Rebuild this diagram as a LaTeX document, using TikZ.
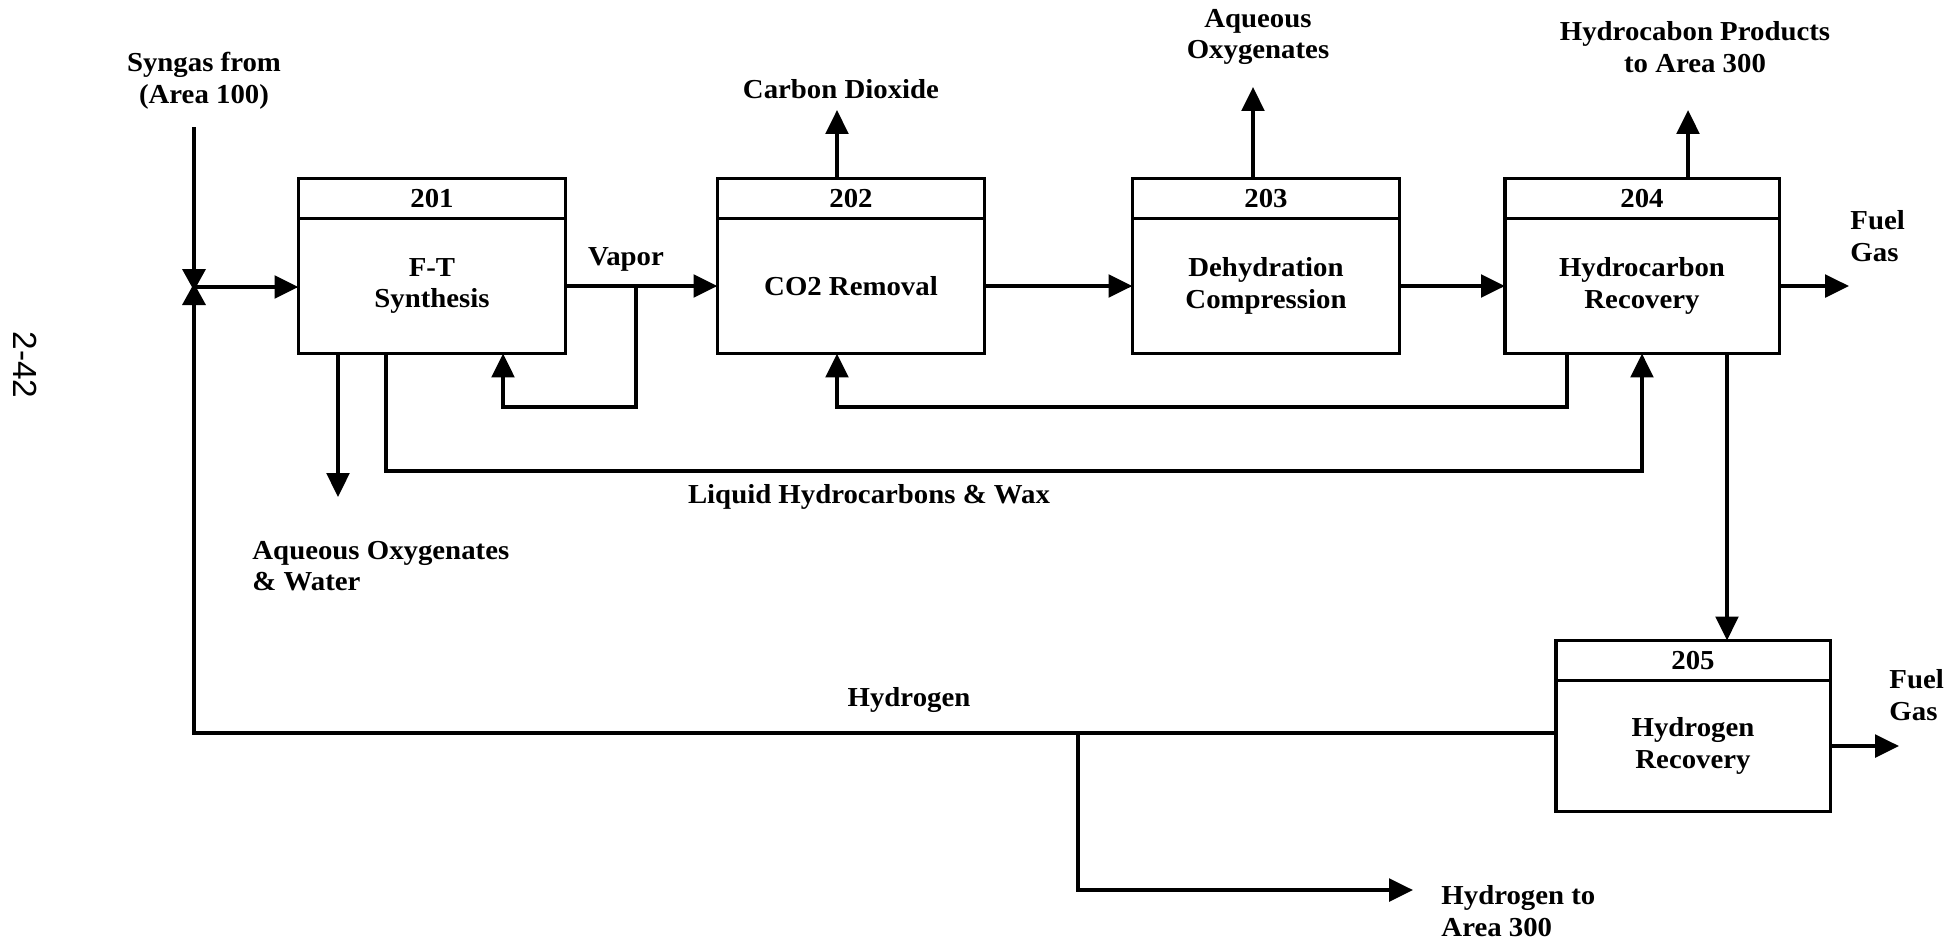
\documentclass[tikz,border=0pt]{standalone}
\usepackage{fontspec}
\setmainfont{Liberation Serif}[FakeStretch=1.05]
\setsansfont{Liberation Sans}
\usetikzlibrary{arrows.meta,positioning}

\newcommand{\flowfont}{\fontsize{7.8pt}{9pt}\selectfont}

\tikzset{
  unit/.style={draw, line width=0.9pt, minimum width=2.67cm, minimum height=1.35cm,
    outer sep=0pt, align=center, font=\bfseries\flowfont},
  tag/.style={draw, line width=0.9pt, minimum width=2.67cm, minimum height=0.40cm,
    outer sep=0pt, inner sep=0pt, font=\bfseries\flowfont},
  lbl/.style={align=center, inner sep=1pt, font=\bfseries\flowfont},
  flow/.style={->, line width=1.1pt},
}

\begin{document}
\begin{tikzpicture}[x=0.01cm, y=-0.01cm, >={Triangle[length=6.8pt,width=6.4pt]}, line width=1.1pt]
        \useasboundingbox (0,0) rectangle (1960,941);

        % Process units
        \node[unit] (u201) at (432,286) {F-T\\Synthesis};
        \node[tag, above=0pt of u201] (t201) {201};
        \node[unit] (u202) at (851,286) {CO2 Removal};
        \node[tag, above=0pt of u202] (t202) {202};
        \node[unit] (u203) at (1266,286) {Dehydration\\Compression};
        \node[tag, above=0pt of u203] (t203) {203};
        \node[unit, minimum width=2.74cm] (u204) at (1642,286) {Hydrocarbon\\Recovery};
        \node[tag, minimum width=2.74cm, above=0pt of u204] (t204) {204};
        \node[unit, minimum width=2.74cm, minimum height=1.31cm] (u205) at (1693,746) {Hydrogen\\Recovery};
        \node[tag, minimum width=2.74cm, above=0pt of u205] (t205) {205};

        % Stream labels
        \node[lbl] (lsyn) at (204,81) {Syngas from\\(Area 100)};
        \node[lbl] (lvap) at (626,259) {Vapor};
        \node[lbl] (lco2) at (841,89) {Carbon Dioxide};
        \node[lbl] (laqo) at (1258,37) {Aqueous\\Oxygenates};
        \node[lbl] (lhcp) at (1695,47) {Hydrocabon Products\\to Area 300};
        \node[lbl, anchor=west, align=left] (lfg1) at (1845,236) {Fuel\\Gas};
        \node[lbl, anchor=west, align=left] (lfg2) at (1884,695) {Fuel\\Gas};
        \node[lbl, anchor=west, align=left] (laqw) at (247,566) {Aqueous Oxygenates\\\& Water};
        \node[lbl] (lliq) at (869,497) {Liquid Hydrocarbons \& Wax};
        \node[lbl] (lh2) at (909,700) {Hydrogen};
        \node[lbl, anchor=west, align=left] (lh2o) at (1436,911) {Hydrogen to\\Area 300};
        \node[rotate=-90, font=\sffamily\fontsize{9.5pt}{10pt}\selectfont] (lpage) at (25,365) {2-42};

        % Stream ends and bends
        \coordinate (synin) at (194,127);
        \coordinate (valve) at (194,287);
        \coordinate (vap) at (636,286);
        \coordinate (aqw) at (338,497);
        \coordinate (liq) at (386,471);
        \coordinate (rec) at (1567,407);
        \coordinate (co2) at (837,110);
        \coordinate (aqo) at (1253,87);
        \coordinate (hcp) at (1688,110);
        \coordinate (hr) at (1727,0);
        \coordinate (fg1) at (1849,286);
        \coordinate (fg2) at (1899,746);
        \coordinate (hbr) at (1078,733);
        \coordinate (h2out) at (1413,890);

        % Feed and valve
        \draw (synin) -- (valve);
        \fill ([shift={(-12,-18)}]valve) -- ([shift={(12,-18)}]valve) -- ([shift={(2,0)}]valve)
              -- ([shift={(12,18)}]valve) -- ([shift={(-12,18)}]valve) -- ([shift={(-2,0)}]valve) -- cycle;
        \draw[flow] (valve) -- (u201.west |- valve);

        % Main train
        \draw[flow] (u201) -- (u202);
        \draw[flow] (u202) -- (u203);
        \draw[flow] (u203) -- (u204);
        \draw[flow] (u204) -- (fg1);

        % Recycles
        \draw[flow] (vap) -- (636,407) -| ([xshift=0.71cm]u201.south);
        \draw[flow] (u204.south -| rec) -- (rec) -| ([xshift=-0.14cm]u202.south);

        % Liquids
        \draw[flow] (u201.south -| aqw) -- (aqw);
        \draw[flow] (u201.south -| liq) -- (liq) -| (u204);

        % Overheads
        \draw[flow] (t202.north -| co2) -- (co2);
        \draw[flow] (t203.north -| aqo) -- (aqo);
        \draw[flow] (t204.north -| hcp) -- (hcp);

        % Hydrogen recovery
        \draw[flow] (u204.south -| hr) -- (t205.north -| hr);
        \draw[flow] (u205) -- (fg2);
        \draw (u205.west |- hbr) -- (hbr) -| (valve);
        \draw[flow] (hbr) |- (h2out);
\end{tikzpicture}
\end{document}
